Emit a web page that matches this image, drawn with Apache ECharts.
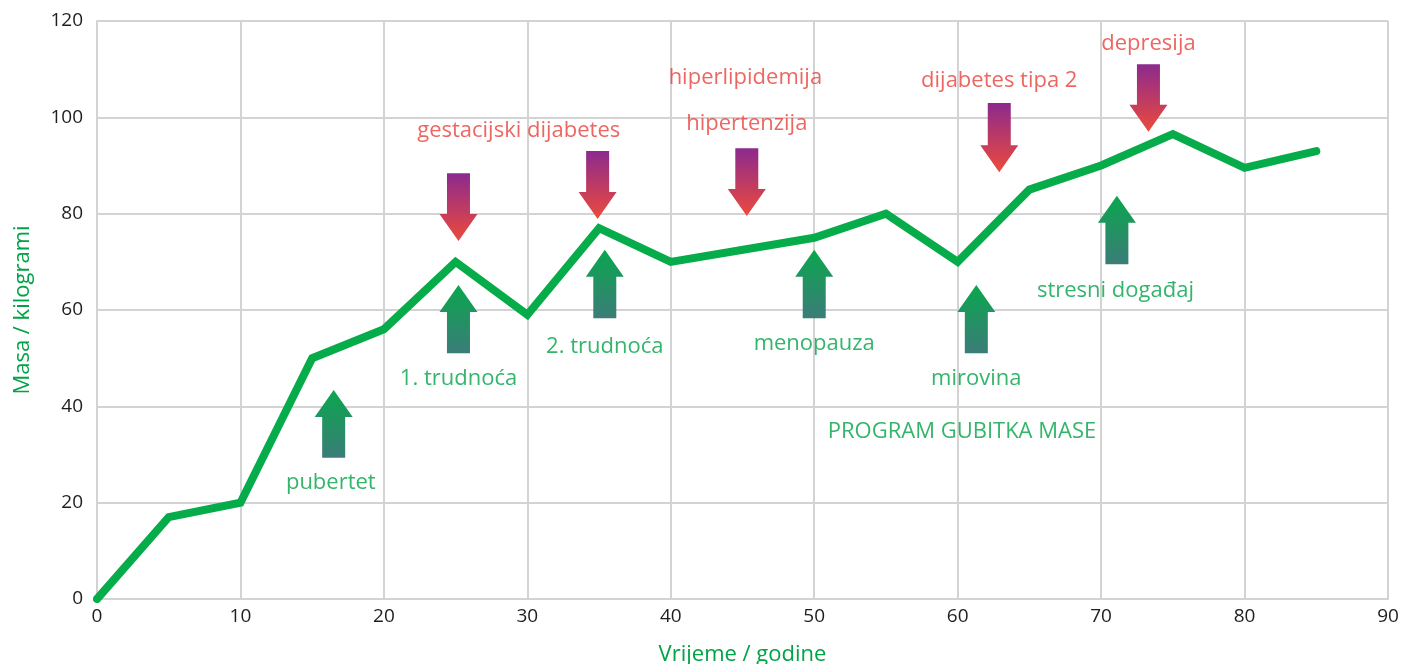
<!DOCTYPE html>
<html>
<head>
<meta charset="utf-8">
<script src="https://cdn.jsdelivr.net/npm/echarts@6/dist/echarts.min.js"></script>
<style>
  html, body { margin: 0; padding: 0; background: #fff; }
  #chart { width: 1404px; height: 664px; }
</style>
</head>
<body>
<div id="chart"></div>
<script>
// weight over a lifetime
const years = [0, 5, 10, 15, 20, 25, 30, 35, 40, 50, 55, 60, 65, 70, 75, 80, 85];
const mass = [0, 17, 20, 50, 56, 70, 59, 77, 70, 75, 80, 70, 85, 90, 96.5, 89.5, 93];

// green arrows pointing up: [x, bottom, tip]
const upArrows = [
  [16.5, 29.3, 43.4],
  [25.2, 51, 65.2],
  [35.4, 58.3, 72.5],
  [50, 58.3, 72.5],
  [61.3, 51, 65.2],
  [71.1, 69.5, 83.7]
];
// red arrows pointing down: [x, top, tip]
const downArrows = [
  [25.2, 88.4, 74.3],
  [34.9, 93, 78.9],
  [45.3, 93.6, 79.5],
  [62.9, 103, 88.6],
  [73.3, 111, 97]
];

const greenLabels = [
  [16.3, 24.1, 'pubertet'],
  [25.2, 45.7, '1. trudnoća'],
  [35.4, 52.3, '2. trudnoća'],
  [50, 52.9, 'menopauza'],
  [61.3, 45.7, 'mirovina'],
  [71, 63.9, 'stresni događaj'],
  [60.3, 34.7, 'PROGRAM GUBITKA MASE']
];
const redLabels = [
  [29.4, 97.2, 'gestacijski dijabetes'],
  [45.2, 108.2, 'hiperlipidemija'],
  [45.3, 98.6, 'hipertenzija'],
  [62.9, 107.7, 'dijabetes tipa 2'],
  [73.3, 115.2, 'depresija']
];

const GREEN = '#00a346';
const RED = '#e8403a';
const FONT = 'Open Sans';

function arrowItem(up) {
  return function (params, api) {
    const x = api.value(0);
    const base = api.coord([x, api.value(1)]);
    const tip = api.coord([x, api.value(2)]);
    const cx = base[0];
    const headH = 27, headW = 19, shaftW = 11.5;
    const dir = up ? 1 : -1; // up: tip above base
    const hb = tip[1] + dir * headH;
    const pts = [
      [cx - shaftW, base[1]],
      [cx - shaftW, hb],
      [cx - headW, hb],
      [cx, tip[1]],
      [cx + headW, hb],
      [cx + shaftW, hb],
      [cx + shaftW, base[1]]
    ];
    const fill = up
      ? new echarts.graphic.LinearGradient(0, 0, 0, 1, [
          { offset: 0, color: '#0aa64e' },
          { offset: 1, color: '#3b7d78' }
        ])
      : new echarts.graphic.LinearGradient(0, 0, 0, 1, [
          { offset: 0, color: '#8c2a8d' },
          { offset: 1, color: '#ec4a3c' }
        ]);
    return { type: 'polygon', shape: { points: pts }, style: { fill: fill } };
  };
}

function labelSeries(list, color) {
  return {
    type: 'scatter',
    symbolSize: 0,
    silent: true,
    data: list.map(function (d) { return { value: [d[0], d[1]], name: d[2] }; }),
    label: {
      show: true,
      position: 'inside',
      formatter: '{b}',
      color: color,
      fontSize: 22,
      fontFamily: FONT
    },
    z: 5
  };
}

const chart = echarts.init(document.getElementById('chart'));
chart.setOption({
  animation: false,
  grid: { left: 97, right: 16, top: 21, bottom: 65, outerBoundsMode: 'none' },
  xAxis: {
    type: 'value',
    min: 0,
    max: 90,
    interval: 10,
    name: 'Vrijeme / godine',
    nameLocation: 'middle',
    nameGap: 45,
    nameTextStyle: { color: GREEN, fontSize: 22, fontFamily: FONT },
    axisLine: { lineStyle: { color: '#d3d3d3', width: 2 } },
    axisTick: { show: false },
    axisLabel: { color: '#1e1e1e', fontSize: 19, fontFamily: FONT, margin: 8 },
    splitLine: { lineStyle: { color: '#d3d3d3', width: 2 } }
  },
  yAxis: {
    type: 'value',
    min: 0,
    max: 120,
    interval: 20,
    name: 'Masa / kilogrami',
    nameLocation: 'middle',
    nameGap: 63,
    nameTextStyle: { color: GREEN, fontSize: 22, fontFamily: FONT },
    axisLine: { show: true, lineStyle: { color: '#d3d3d3', width: 2 } },
    axisTick: { show: false },
    axisLabel: { color: '#1e1e1e', fontSize: 19, fontFamily: FONT, margin: 14 },
    splitLine: { lineStyle: { color: '#d3d3d3', width: 2 } }
  },
  series: [
    {
      type: 'line',
      data: years.map(function (y, i) { return [y, mass[i]]; }),
      symbol: 'none',
      lineStyle: { color: '#06ab4a', width: 8, cap: 'round', join: 'miter' },
      z: 3
    },
    {
      type: 'custom',
      renderItem: arrowItem(true),
      data: upArrows,
      z: 4
    },
    {
      type: 'custom',
      renderItem: arrowItem(false),
      data: downArrows,
      z: 4
    },
    labelSeries(greenLabels, GREEN),
    labelSeries(redLabels, RED)
  ]
});
</script>
</body>
</html>
